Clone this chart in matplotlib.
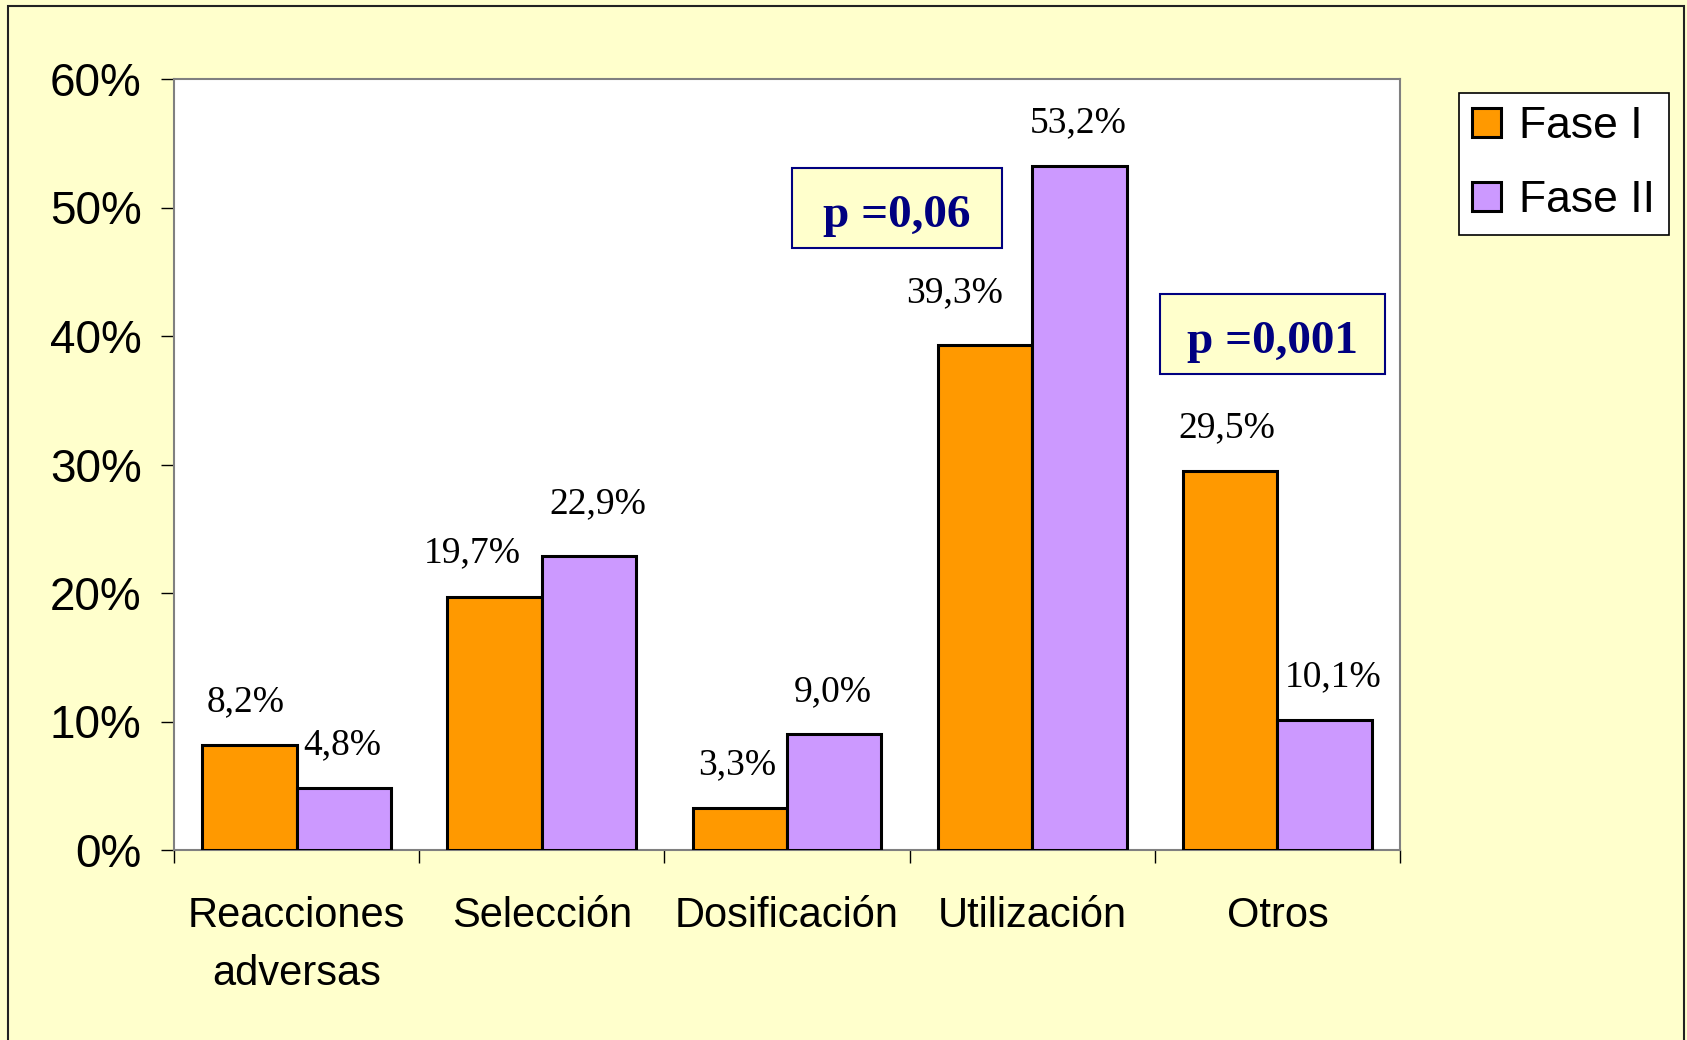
import matplotlib
matplotlib.use("Agg")
import matplotlib.pyplot as plt
from matplotlib.patches import Rectangle

# data
categorias = ["Reacciones\nadversas", "Selección", "Dosificación", "Utilización", "Otros"]
fase1 = [8.2, 19.7, 3.3, 39.3, 29.5]
fase2 = [4.8, 22.9, 9.0, 53.2, 10.1]
yticks = [0, 10, 20, 30, 40, 50, 60]
p_textos = ["p =0,06", "p =0,001"]

# label nudges in pixels (dx, dy above bar top, baseline)
off1 = [(-4, 33), (-22, 35), (-3, 33), (-30, 43), (-3, 34)]
off2 = [(-2, 34), (9, 43), (-1, 33), (-1, 34), (9, 34)]

# p-value boxes in axes fraction (x0, y0, x1, y1)
p_boxes = [(0.504, 0.781, 0.675, 0.885), (0.804, 0.617, 0.988, 0.721)]

naranja = "#FF9900"
lila = "#CC99FF"
fondo = "#FFFFCC"
azul = "#000080"

sans = "Liberation Sans"
serif = "Liberation Serif"

fig = plt.figure(figsize=(16.87, 10.40), dpi=100, facecolor=fondo)
ax = fig.add_axes([174 / 1687, 1 - 850 / 1040, (1400 - 174) / 1687, (850 - 79) / 1040])
ax.set_facecolor("white")

# outer frame of the chart area
fig.patches.append(Rectangle((8 / 1687, -0.01), (1684 - 8) / 1687, 1.01 - 6 / 1040,
                             transform=fig.transFigure, fill=False,
                             edgecolor="#222222", linewidth=1.5, zorder=0))

x = list(range(len(categorias)))
w = 0.385
b1 = ax.bar([i - w / 2 for i in x], fase1, w, color=naranja, edgecolor="black",
            linewidth=2.2, label="Fase I", zorder=3)
b2 = ax.bar([i + w / 2 for i in x], fase2, w, color=lila, edgecolor="black",
            linewidth=2.2, label="Fase II", zorder=3)

for i in x:
    for vals, offs, sgn in ((fase1, off1, -1), (fase2, off2, 1)):
        v = vals[i]
        ax.annotate(f"{v:.1f}%".replace(".", ","), xy=(i + sgn * w / 2, v),
                    xytext=offs[i], textcoords="offset pixels",
                    ha="center", va="baseline", fontsize=27, family=serif,
                    color="black", zorder=5)

ax.set_xlim(-0.5, len(categorias) - 0.5)
ax.set_ylim(0, 60)
ax.set_yticks(yticks)
ax.set_yticklabels([f"{t}%" for t in yticks], fontsize=33, family=sans)
ax.tick_params(axis="y", length=9.4, width=1, direction="out", pad=14, color="black")

ax.set_xticks(x)
ax.set_xticklabels(categorias, fontsize=30, family=sans, linespacing=1.6)
ax.tick_params(axis="x", which="major", length=0, pad=33)
ax.set_xticks([i - 0.5 for i in range(len(categorias) + 1)], minor=True)
ax.tick_params(axis="x", which="minor", length=9.4, width=1, direction="out", color="black")

for s in ax.spines.values():
    s.set_color("#808080")
    s.set_linewidth(1.5)

# p-value boxes
for (x0, y0, x1, y1), txt in zip(p_boxes, p_textos):
    ax.add_patch(Rectangle((x0, y0), x1 - x0, y1 - y0, transform=ax.transAxes,
                           facecolor=fondo, edgecolor=azul, linewidth=1.5,
                           zorder=6, clip_on=False))
    ax.text((x0 + x1) / 2, (y0 + y1) / 2 - 0.004, txt, transform=ax.transAxes,
            ha="center", va="center_baseline", fontsize=34, fontweight="bold",
            family=serif, color=azul, zorder=7)

leg = fig.legend(handles=[b1, b2], labels=["Fase I", "Fase II"],
                 loc="upper left", bbox_to_anchor=(1459 / 1687, 1 - 93 / 1040),
                 bbox_transform=fig.transFigure, borderaxespad=0,
                 prop={"family": sans, "size": 32}, fancybox=False,
                 edgecolor="black", framealpha=1, handlelength=0.64,
                 handleheight=0.64, handletextpad=0.42, labelspacing=0.74,
                 borderpad=0.3)
leg.get_frame().set_linewidth(1.2)

fig.savefig("out.png", dpi=100, facecolor=fondo)
